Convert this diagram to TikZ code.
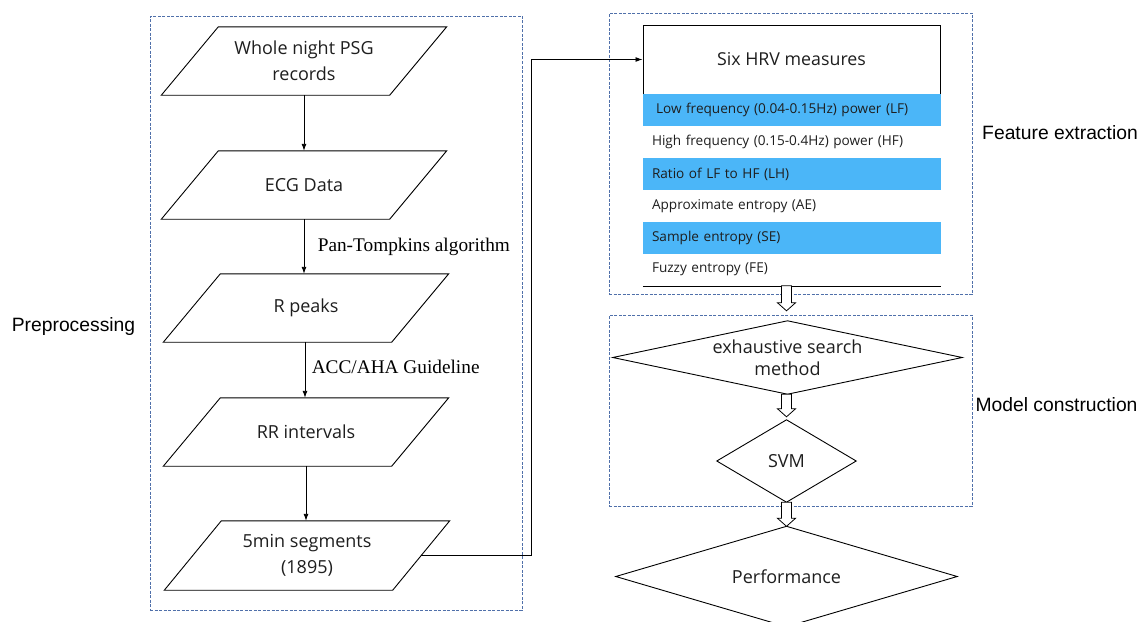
\documentclass[tikz,border=0pt]{standalone}
\usepackage{fontspec}
\setmainfont{Open Sans}
\newfontfamily\arialfont{Liberation Sans}
\newfontfamily\timesfont{Liberation Serif}
\usetikzlibrary{arrows.meta,calc}
\definecolor{bandblue}{RGB}{75,182,248}
\definecolor{groupblue}{RGB}{80,112,170}
\definecolor{inktext}{RGB}{30,30,30}

% hollow block arrow pointing down, from #1 (top of shaft) to #2 (tip)
\newcommand\hollowdown[2]{%
  \draw[line width=0.8pt, fill=white]
    ($(#1)+(-5,0)$) -- ($(#2)+(-5,-8)$) -- ($(#2)+(-9,-8)$) -- (#2)
    -- ($(#2)+(9,-8)$) -- ($(#2)+(5,-8)$) -- ($(#1)+(5,0)$) -- cycle;}

\tikzset{
  para/.style={minimum width=285pt, minimum height=68pt, inner sep=0pt,
    align=center, text=inktext, font=\fontsize{18}{26}\selectfont},
  outline/.style={line width=0.9pt},
  flow/.style={line width=0.9pt, -{Latex[length=7pt,width=5pt]}},
  band/.style={minimum width=298pt, minimum height=32pt, text width=280pt,
    inner xsep=9pt, inner ysep=0pt, align=left, text=inktext,
    font=\fontsize{13.6}{16}\selectfont},
  group/.style={draw=groupblue, line width=0.8pt, dash pattern=on 3pt off 1.5pt,
    inner sep=0pt},
  side/.style={font=\arialfont\fontsize{19.3}{22}\selectfont},
  steplabel/.style={anchor=west, font=\timesfont\fontsize{19.3}{22}\selectfont},
  choice/.style={inner sep=0pt, align=center, text=inktext,
    font=\fontsize{18}{22}\selectfont},
}

\begin{document}
\begin{tikzpicture}[x=1pt, y=-1pt]
\useasboundingbox (0,0) rectangle (1140,621);

% ---- group frames ----
\node[group, minimum width=372pt, minimum height=594pt] (pregrp) at (336,313) {};
\node[group, minimum width=363pt, minimum height=281pt] (featgrp) at (790.5,153.5) {};
\node[group, minimum width=363pt, minimum height=191pt] (modgrp) at (790.5,410.5) {};

\node[side] (prelab) at (73.5,327) {Preprocessing};
\node[side] (featlab) at (1060,133) {Feature extraction};
\node[side] (modlab) at (1056.5,405) {Model construction};

% ---- preprocessing chain ----
\node[para] (psg) at (304,61) {Whole night PSG\\records};
\node[para] (ecg) at (304,185) {ECG Data};
\node[para] (rp)  at (306,308) {R peaks};
\node[para] (rr)  at (306,432) {RR intervals};
\node[para, minimum height=69pt] (seg) at (307,555.5) {5min segments\\(1895)};

\foreach \n in {psg,ecg,rp,rr,seg}
  \draw[outline] ([xshift=57pt]\n.north west) -- (\n.north east)
    -- ([xshift=-57pt]\n.south east) -- (\n.south west) -- cycle;

\draw[flow] (psg.south) -- (psg.south |- ecg.north);
\draw[flow] (ecg.south) -- (ecg.south |- rp.north)
  node[steplabel, pos=0.5, xshift=10pt] (ptlab) {Pan-Tompkins algorithm};
\draw[flow] ([xshift=-1pt]rp.south) -- ([xshift=-1pt]rp.south |- rr.north)
  node[steplabel, pos=0.45, xshift=3pt] (acclab) {ACC/AHA Guideline};
\draw[flow] (rr.south) -- (rr.south |- seg.north);

% ---- HRV measures ----
\node[draw, line width=1pt, minimum width=297pt, minimum height=69pt,
  text=inktext, font=\fontsize{17.8}{20}\selectfont] (hrv) at (791.5,59.5) {Six HRV measures};

\node[band, fill=bandblue] (lf) at (792,110) {\hspace{4pt}Low frequency (0.04-0.15Hz) power (LF)};
\node[band] (hf) at (792,142) {High frequency (0.15-0.4Hz) power (HF)};
\node[band, fill=bandblue] (lh) at (792,174) {Ratio of LF to HF (LH)};
\node[band] (ae) at (792,206) {Approximate entropy (AE)};
\node[band, fill=bandblue] (se) at (792,238) {Sample entropy (SE)};
\node[band] (fe) at (792,269.5) {Fuzzy entropy (FE)};
\draw[line width=0.9pt] ([yshift=-0.5pt]fe.south west) -- ([yshift=-0.5pt]fe.south east);

\coordinate (segr) at ([xshift=-28.5pt]seg.east);
\draw[flow] (segr) -- ++(110.5,0) |- (hrv.west);

% ---- model construction ----
\node[choice, minimum width=349pt, minimum height=73pt] (esm) at (787.5,357.5)
  {exhaustive search\\method};
\node[choice, minimum width=139pt, minimum height=82pt] (svm) at (786.5,461) {SVM};
\node[choice, minimum width=341pt, minimum height=100pt] (perf) at (786.5,576.5) {Performance};

\foreach \n in {esm,svm,perf}
  \draw[outline] (\n.north) -- (\n.east) -- (\n.south) -- (\n.west) -- cycle;

\coordinate (a1top) at ($(esm.north |- fe.south)+(-1,0)$);
\coordinate (a1tip) at ($(esm.north)+(-1,-10)$);
\hollowdown{a1top}{a1tip}
\coordinate (a2tip) at ($(svm.north)+(0,-3)$);
\coordinate (a2top) at (esm.south -| svm.north);
\hollowdown{a2top}{a2tip}
\hollowdown{svm.south}{perf.north}
\end{tikzpicture}
\end{document}
